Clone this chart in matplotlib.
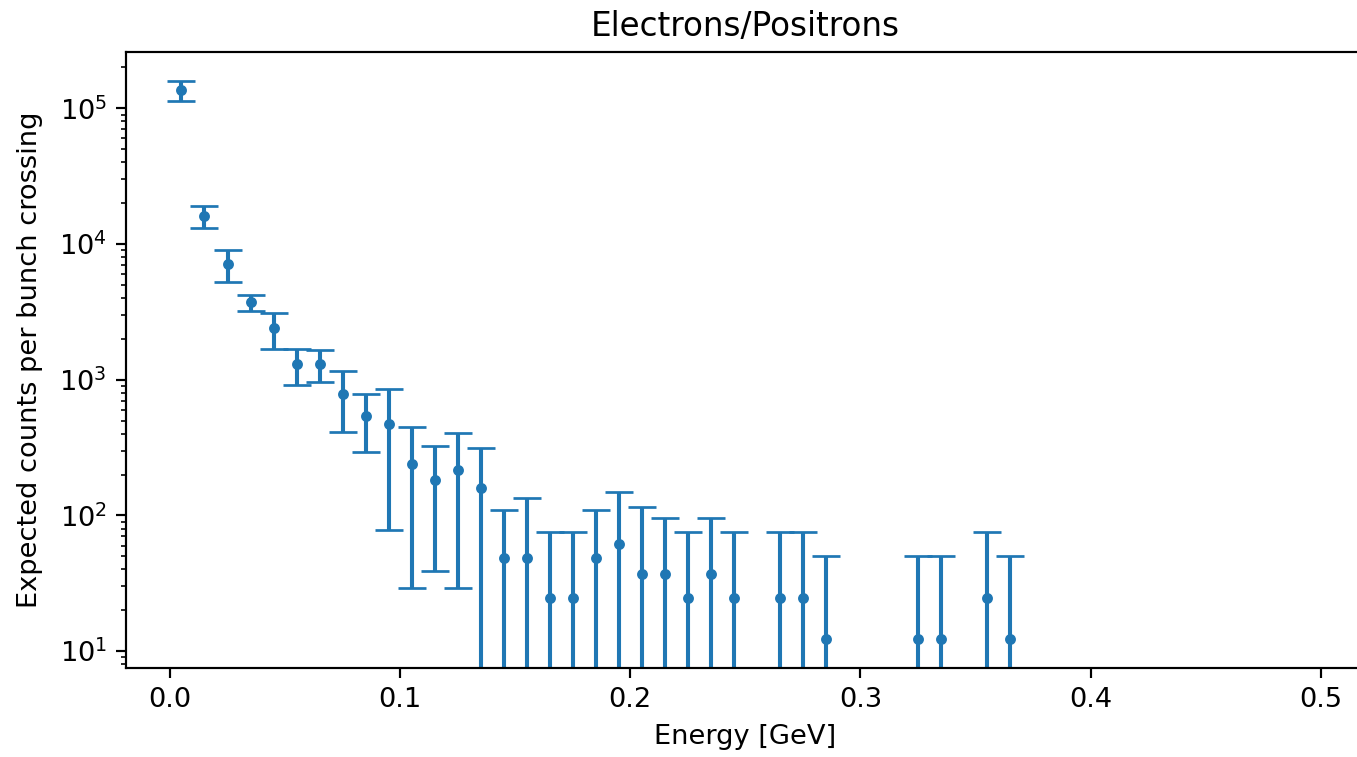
import matplotlib
matplotlib.use('Agg')
import matplotlib.pyplot as plt
import numpy as np

# bin centres [GeV] of the non-empty bins
energy = [0.005, 0.015, 0.025, 0.035, 0.045, 0.055, 0.065, 0.075, 0.085, 0.095,
          0.105, 0.115, 0.125, 0.135, 0.145, 0.155, 0.165, 0.175, 0.185, 0.195,
          0.205, 0.215, 0.225, 0.235, 0.245, 0.265, 0.275, 0.285, 0.325, 0.335,
          0.355, 0.365]
counts = [136000, 16100, 7120, 3720, 2390, 1305, 1300, 785, 540, 469,
          240, 181, 217, 158, 48.5, 48.5, 24.5, 24.5, 48.5, 61.5,
          36.8, 36.8, 24.5, 36.8, 24.5, 24.5, 24.5, 12.2, 12.2, 12.2,
          24.5, 12.2]
errors = [23000, 3000, 1870, 507, 700, 393, 343, 376, 248, 391,
          211, 142, 188, 154, 61, 85, 50.6, 50.6, 61, 87,
          79, 58.5, 50.6, 58.5, 50.6, 50.6, 50.6, 38, 38, 38,
          50.6, 38]

dpi = 196
fig = plt.figure(figsize=(1357 / dpi, 757 / dpi), dpi=dpi)
ax = fig.add_axes([126 / 1357, (757 - 667.7) / 757, (1364.5 - 126) / 1357, (667.7 - 52) / 757])

ax.errorbar(energy, counts, yerr=errors, fmt='.', capsize=5)
ax.set_yscale('log')
ax.set_xlim(-0.0191, 0.519)
ax.set_ylim(7.55, 2.6e5)
ax.set_xlabel('Energy [GeV]')
ax.set_ylabel('Expected counts per bunch crossing', labelpad=6)
ax.set_title('Electrons/Positrons')

fig.savefig('out.png', dpi=dpi)
